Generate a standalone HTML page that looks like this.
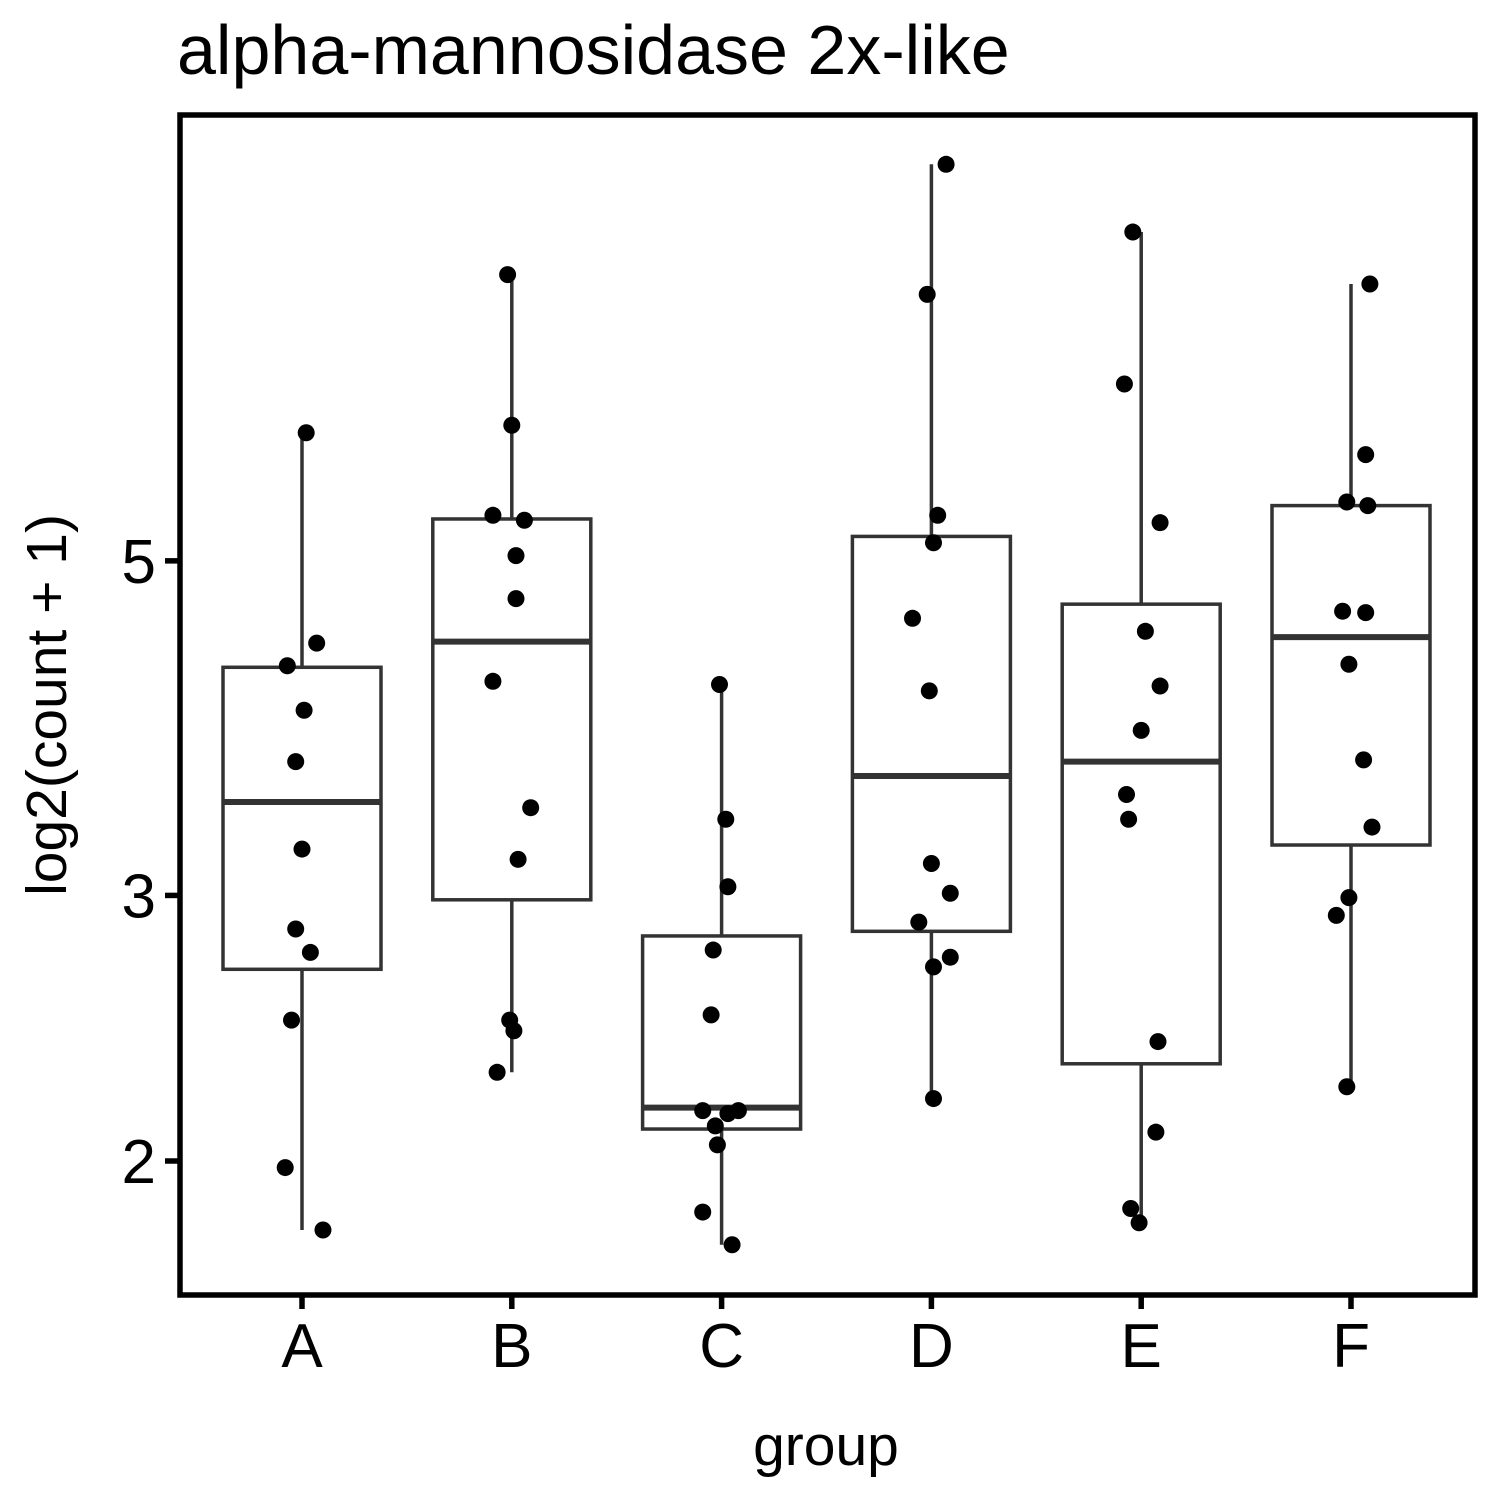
<!DOCTYPE html>
<html><head><meta charset="utf-8"><style>
html,body{margin:0;padding:0;background:#fff}
svg{display:block;font-family:"Liberation Sans",Arial,sans-serif}
</style></head><body>
<svg id="chart" width="1500" height="1500" viewBox="0 0 1500 1500" xmlns="http://www.w3.org/2000/svg">
<rect width="1500" height="1500" fill="#fff"/>
<text x="177" y="74" font-size="70" fill="#000">alpha-mannosidase 2x-like</text>
<g id="marks"></g>
<rect x="180" y="115" width="1295" height="1180" fill="none" stroke="#000" stroke-width="5.5"/>
<text x="826" y="1465" font-size="57" text-anchor="middle" fill="#000">group</text>
<text transform="translate(66,705) rotate(-90)" font-size="57" text-anchor="middle" fill="#000">log2(count + 1)</text>
</svg>
<script>
const categories = ["A","B","C","D","E","F"];
const yTicks = [2,3,5];
const q1 = [2.68,2.98,2.10,2.84,2.32,3.24];
const medians = [3.46,4.42,2.17,3.60,3.68,4.45];
const q3 = [4.25,5.33,2.82,5.19,4.68,5.44];
const whiskerLow = [1.80,2.29,1.76,2.20,1.82,2.24];
const whiskerHigh = [6.08,7.74,4.14,9.16,8.26,7.63];
const pointsA = [6.08,4.41,4.26,3.98,3.68,3.22,2.85,2.75,2.48,1.98,1.80];
const pointsB = [7.74,6.15,5.36,5.32,5.04,4.72,4.16,3.43,3.17,2.48,2.44,2.29];
const pointsC = [4.14,3.37,3.04,2.76,2.50,2.16,2.16,2.15,2.11,2.05,1.85,1.76];
const pointsD = [9.16,7.51,5.36,5.14,4.58,4.10,3.15,3.01,2.88,2.73,2.69,2.20];
const pointsE = [8.26,6.55,5.30,4.49,4.13,3.86,3.50,3.37,2.40,2.09,1.86,1.82];
const pointsF = [7.63,5.88,5.47,5.44,4.63,4.62,4.27,3.69,3.33,2.99,2.91,2.24];
const jitterA = [0.02,0.07,-0.07,0.01,-0.03,0.00,-0.03,0.04,-0.05,-0.08,0.10];
const jitterB = [-0.02,0.00,-0.09,0.06,0.02,0.02,-0.09,0.09,0.03,-0.01,0.01,-0.07];
const jitterC = [-0.01,0.02,0.03,-0.04,-0.05,-0.09,0.08,0.03,-0.03,-0.02,-0.09,0.05];
const jitterD = [0.07,-0.02,0.03,0.01,-0.09,-0.01,0.00,0.09,-0.06,0.09,0.01,0.01];
const jitterE = [-0.04,-0.08,0.09,0.02,0.09,0.00,-0.07,-0.06,0.08,0.07,-0.05,-0.01];
const jitterF = [0.09,0.07,-0.02,0.08,-0.04,0.07,-0.01,0.06,0.10,-0.01,-0.07,-0.02];
const allPoints = [pointsA,pointsB,pointsC,pointsD,pointsE,pointsF];
const allJitter = [jitterA,jitterB,jitterC,jitterD,jitterE,jitterF];

const NS="http://www.w3.org/2000/svg";
const svg=document.getElementById('chart');
const g=document.getElementById('marks');
function xScale(i){return 302+i*209.8;}
function yScale(v){return 1161-454*(Math.log2(v)-1);}
const bandW=209.8;
function mk(tag,attrs,parent){const e=document.createElementNS(NS,tag);for(const k in attrs)e.setAttribute(k,attrs[k]);(parent||g).appendChild(e);return e;}

categories.forEach((c,i)=>{
  const cx=xScale(i), hw=79;
  const wl=mk('line',{x1:cx,x2:cx,y1:yScale(q3[i]),y2:yScale(whiskerHigh[i]),stroke:'#333','stroke-width':3.5});
  
  
  const wl2=mk('line',{x1:cx,x2:cx,y1:yScale(q1[i]),y2:yScale(whiskerLow[i]),stroke:'#333','stroke-width':3.5});
  
  
  const b=mk('rect',{x:cx-hw,y:yScale(q3[i]),width:2*hw,height:yScale(q1[i])-yScale(q3[i]),fill:'#fff',stroke:'#333','stroke-width':3.5});
  
  
  const m=mk('line',{x1:cx-hw,x2:cx+hw,y1:yScale(medians[i]),y2:yScale(medians[i]),stroke:'#333','stroke-width':6});
  
  
  allPoints[i].forEach((v,j)=>{
    const p=mk('circle',{cx:cx+allJitter[i][j]*bandW,cy:yScale(v),r:8.5,fill:'#000'});
    
    
  });
  const t=mk('line',{x1:cx,x2:cx,y1:1297,y2:1309,stroke:'#000','stroke-width':5.5},svg);
  
  
  const l=mk('text',{x:cx,y:1367,'font-size':62,'text-anchor':'middle',fill:'#000'},svg);
  l.textContent=c;
  
  
});
yTicks.forEach(v=>{
  const y=yScale(v);
  const t=mk('line',{x1:165,x2:178,y1:y,y2:y,stroke:'#000','stroke-width':5.5},svg);
  
  
  const l=mk('text',{x:156,y:y+22,'font-size':62,'text-anchor':'end',fill:'#000'},svg);
  l.textContent=v;
  
  
});
</script>
</body></html>
